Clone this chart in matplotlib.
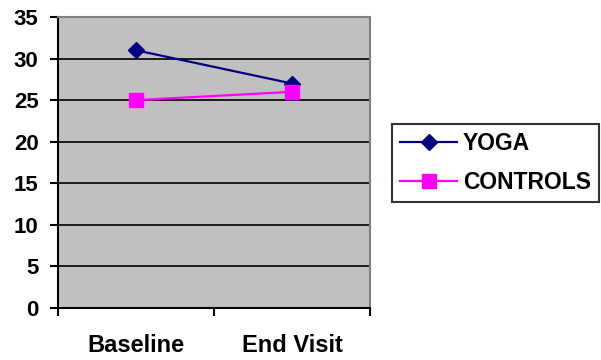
import matplotlib
matplotlib.use('Agg')
import matplotlib.pyplot as plt

# chart data
categories = ['Baseline', 'End Visit']
yoga = [31, 27]
controls = [25, 26]
y_ticks = [0, 5, 10, 15, 20, 25, 30, 35]

plt.rcParams['font.family'] = 'Liberation Sans'
plt.rcParams['font.weight'] = 'bold'

fig = plt.figure(figsize=(6.01, 3.6), dpi=100)
ax = fig.add_axes([58 / 601, 52 / 360, 312 / 601, 291 / 360])
ax.set_facecolor('#C0C0C0')

x = list(range(len(categories)))
ax.plot(x, yoga, color='#000080', lw=1.6, marker='D', ms=7.8, label='YOGA', zorder=3)
ax.plot(x, controls, color='#FF00FF', lw=1.6, marker='s', ms=10.5, label='CONTROLS', zorder=3)

ax.set_xlim(-0.5, 1.5)
ax.set_ylim(0, 35)
ax.yaxis.grid(True, color='black', lw=1.2)
ax.set_axisbelow(True)

ax.tick_params(axis='x', which='major', direction='out', length=6, width=1.5)
ax.tick_params(axis='x', which='minor', length=0, pad=19)
ax.tick_params(axis='y', direction='out', length=6, width=1.5, pad=8)

ax.set_yticks(y_ticks)
ax.set_yticklabels([str(v) for v in y_ticks])
# category ticks sit between categories, labels under categories
ax.set_xticks([-0.5, 0.5, 1.5])
ax.set_xticklabels([])
ax.set_xticks(x, minor=True)
ax.set_xticklabels(categories, minor=True)

for t in ax.get_yticklabels():
    t.set_fontsize(16)
    t.set_fontweight('bold')
for t in ax.get_xticklabels(minor=True):
    t.set_fontsize(17)
    t.set_fontweight('bold')

for s in ['left', 'bottom']:
    ax.spines[s].set_color('black')
    ax.spines[s].set_linewidth(1.5)
for s in ['top', 'right']:
    ax.spines[s].set_color('#808080')
    ax.spines[s].set_linewidth(1.5)

leg = fig.legend(loc='upper left', bbox_to_anchor=(392 / 601, 1 - 124 / 360),
                 frameon=True, fancybox=False, edgecolor='black', fontsize=16.5,
                 handlelength=2.5, handletextpad=0.25, labelspacing=0.7,
                 borderpad=0.35, borderaxespad=0)
leg.get_frame().set_linewidth(1.5)
for t in leg.get_texts():
    t.set_fontweight('bold')

fig.savefig('out.png', dpi=100)
